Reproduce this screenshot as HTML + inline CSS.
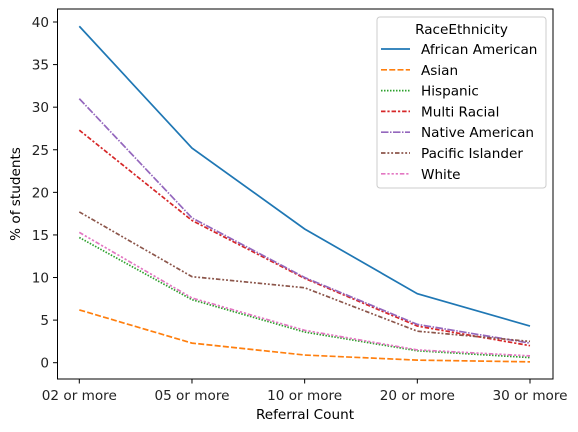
<!DOCTYPE html>
<html><head><meta charset="utf-8"><style>
body{margin:0;background:#fff}
svg{display:block;font-family:"DejaVu Sans","Liberation Sans",sans-serif}
</style></head><body>
<svg width="578" height="432" viewBox="0 0 578 432">
<g id="grid"></g>
<g id="lines"></g>
<rect x="57.5" y="9" width="495.5" height="370" fill="none" stroke="#000" stroke-width="1"/>
<g id="axes" font-size="13.6" fill="#222"></g>
<text x="305" y="419" font-size="13.6" text-anchor="middle">Referral Count</text>
<text transform="translate(20,194) rotate(-90)" font-size="13.6" text-anchor="middle">% of students</text>
<g id="legend">
<rect x="377" y="17" width="169" height="171" rx="3" fill="#fff" fill-opacity="0.8" stroke="#ccc"/>
<text x="461.5" y="34" font-size="13.6" text-anchor="middle">RaceEthnicity</text>
</g>
</svg>
<script>
const categories=["02 or more","05 or more","10 or more","20 or more","30 or more"];
const seriesNames=["African American","Asian","Hispanic","Multi Racial","Native American","Pacific Islander","White"];
const africanAmerican=[39.5,25.2,15.7,8.1,4.3];
const asian=[6.2,2.3,0.9,0.3,0.1];
const hispanic=[14.7,7.4,3.6,1.4,0.6];
const multiRacial=[27.3,16.7,9.9,4.3,2.0];
const nativeAmerican=[31.0,17.0,10.0,4.5,2.3];
const pacificIslander=[17.7,10.1,8.8,3.7,2.5];
const white=[15.3,7.6,3.8,1.5,0.8];
const yTicks=[0,5,10,15,20,25,30,35,40];
const colors=["#1f77b4","#ff7f0e","#2ca02c","#d62728","#9467bd","#8c564b","#e377c2"];
const dashes=["","6 2.25","1.5 1.5","4.5 1.9 2.25 1.9","7.5 1.5 1.5 1.5","4.5 1.9 1.9 1.9 1.9 1.9","4.5 1.9 2.25 1.9 2.25 1.9 2.25 1.9"];
const allSeries=[africanAmerican,asian,hispanic,multiRacial,nativeAmerican,pacificIslander,white];
const NS="http://www.w3.org/2000/svg";
function xS(i){return 79.3+i*(530-79.3)/(categories.length-1);}
function yS(v){return 362.7-v*(362.7-22)/40;}
const axes=document.getElementById('axes');
categories.forEach((c,i)=>{
 const t=document.createElementNS(NS,'line');
 t.setAttribute('x1',xS(i));t.setAttribute('x2',xS(i));t.setAttribute('y1',379);t.setAttribute('y2',383.5);t.setAttribute('stroke','#000');
 
 
 axes.appendChild(t);
 const l=document.createElementNS(NS,'text');
 l.setAttribute('x',xS(i));l.setAttribute('y',400);l.setAttribute('text-anchor','middle');l.textContent=c;
 
 
 axes.appendChild(l);
});
yTicks.forEach(v=>{
 const t=document.createElementNS(NS,'line');
 t.setAttribute('x1',53);t.setAttribute('x2',57.5);t.setAttribute('y1',yS(v));t.setAttribute('y2',yS(v));t.setAttribute('stroke','#000');
 
 
 axes.appendChild(t);
 const l=document.createElementNS(NS,'text');
 l.setAttribute('x',49);l.setAttribute('y',yS(v)+5);l.setAttribute('text-anchor','end');l.textContent=v;
 
 
 axes.appendChild(l);
});
const lines=document.getElementById('lines');
const legend=document.getElementById('legend');
allSeries.forEach((s,k)=>{
 const p=document.createElementNS(NS,'polyline');
 p.setAttribute('points',s.map((v,i)=>xS(i)+','+yS(v)).join(' '));
 p.setAttribute('fill','none');p.setAttribute('stroke',colors[k]);p.setAttribute('stroke-width','1.7');
 if(dashes[k])p.setAttribute('stroke-dasharray',dashes[k]);
 
 
 lines.appendChild(p);
 const y=49+k*20.8;
 const ll=document.createElementNS(NS,'line');
 ll.setAttribute('x1',381);ll.setAttribute('x2',410);ll.setAttribute('y1',y);ll.setAttribute('y2',y);
 ll.setAttribute('stroke',colors[k]);ll.setAttribute('stroke-width','1.7');
 if(dashes[k])ll.setAttribute('stroke-dasharray',dashes[k]);
 
 
 legend.appendChild(ll);
 const lt=document.createElementNS(NS,'text');
 lt.setAttribute('x',421);lt.setAttribute('y',y+5);lt.setAttribute('font-size','13.6');lt.textContent=seriesNames[k];
 
 
 legend.appendChild(lt);
});
</script>
</body></html>
